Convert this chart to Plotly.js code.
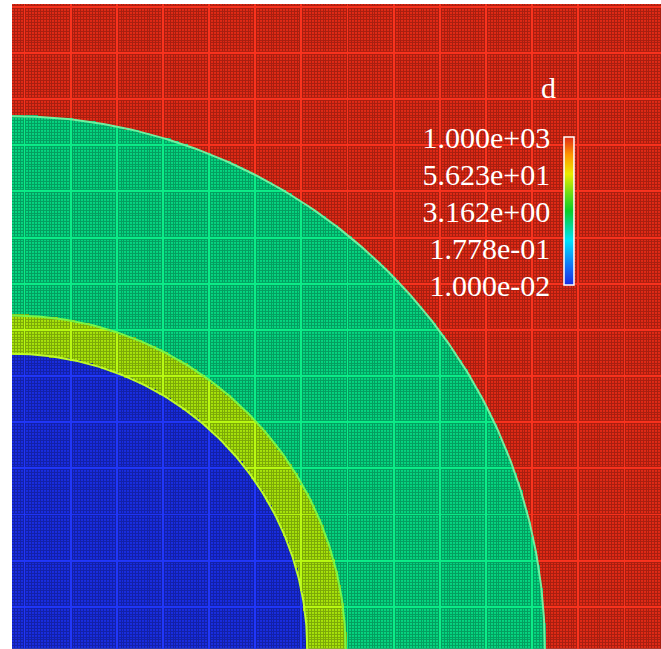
<!DOCTYPE html>
<html>
<head>
<meta charset="utf-8">
<script src="https://cdn.plot.ly/plotly-3.0.1.min.js"></script>
<style>html,body{margin:0;padding:0;background:#fff;}</style>
</head>
<body>
<div id="chart" style="width:661px;height:649px;"></div>
<script>
// ---- data ----
const regionNames = ['core', 'inner shell', 'outer shell', 'ambient'];
const regionOuterRadius = [0.455, 0.514, 0.821, 2.0];   // quarter-circle radii, centre at bottom-left
const regionD = [0.01, 25, 1.2, 1000];                   // value of d in each region
const tickD = [0.01, 0.1778, 3.162, 56.23, 1000];
const tickText = ['1.000e-02', '1.778e-01', '3.162e+00', '5.623e+01', '1.000e+03'];
const dMin = 0.01, dMax = 1000;
const legendTitle = 'd';

// mesh description
const cellsPerUnit = 225;        // fine mesh cells per unit length
const blockCells = 16;           // cells per refinement block
const blockOffsetX = 4, blockOffsetY = 14;
const xMax = 1.0, yMax = 645 / 649;

// ---- build mesh grid ----
const h = 1 / cellsPerUnit;
const nx = Math.round(xMax / h), ny = Math.ceil(yMax / h);
const xs = [], ys = [];
for (let i = 0; i < nx; i++) xs.push((i + 0.5) * h);
for (let j = 0; j < ny; j++) ys.push((j + 0.5) * h);

function regionLogD(x, y) {
  const r = Math.sqrt(x * x + y * y);
  for (let k = 0; k < regionOuterRadius.length; k++) {
    if (r <= regionOuterRadius[k]) return Math.log10(regionD[k]);
  }
  return Math.log10(regionD[regionD.length - 1]);
}
const z = [], zCols = [], zRows = [];
for (let j = 0; j < ny; j++) {
  const row = [], rowC = [], rowR = [];
  const onRow = ((j - blockOffsetY) % blockCells + blockCells) % blockCells === 0;
  for (let i = 0; i < nx; i++) {
    const v = regionLogD(xs[i], ys[j]);
    row.push(v);
    const onCol = ((i - blockOffsetX) % blockCells + blockCells) % blockCells === 0;
    rowC.push(onCol ? v : null);
    rowR.push(onRow ? v : null);
  }
  z.push(row); zCols.push(rowC); zRows.push(rowR);
}

const cmin = Math.log10(dMin), cmax = Math.log10(dMax);
const scaleMain = [
  [0.00, 'rgb(25,45,225)'],
  [0.12, 'rgb(20,110,245)'],
  [0.30, 'rgb(0,225,250)'],
  [0.50, 'rgb(10,205,40)'],
  [0.62, 'rgb(110,220,20)'],
  [0.75, 'rgb(235,235,0)'],
  [0.88, 'rgb(255,150,0)'],
  [1.00, 'rgb(225,42,22)']
];
function scaled(sc, f, add) {
  return sc.map(([p, c]) => {
    const m = c.match(/\d+/g).map(Number);
    const q = m.map(v => Math.max(0, Math.min(255, Math.round(v * f + add))));
    return [p, `rgb(${q[0]},${q[1]},${q[2]})`];
  });
}
const scaleDark = scaled(scaleMain, 0.74, 0);
const scaleBright = scaled(scaleMain, 1.08, 6);

const txtFont = { family: 'Liberation Serif', size: 30, color: '#fff' };

const traces = [
  { type: 'heatmap', x: xs, y: ys, z: z, zmin: cmin, zmax: cmax, colorscale: scaleDark,
    showscale: false, hoverinfo: 'skip', zsmooth: false },
  { type: 'heatmap', x: xs, y: ys, z: z, zmin: cmin, zmax: cmax, colorscale: scaleMain,
    xgap: 1, ygap: 1, zsmooth: false, name: legendTitle,
    colorbar: {
      tickvals: tickD.map(Math.log10), ticktext: tickText,
      tickfont: txtFont,
      ticks: 'inside', ticklen: 27, tickcolor: 'rgba(0,0,0,0)',
      ticklabelposition: 'inside', ticklabeloverflow: 'allow',
      x: 0.851, xanchor: 'left', xpad: 0, ypad: 0,
      y: 0.679, yanchor: 'middle', len: 0.2295, lenmode: 'fraction',
      thickness: 10, outlinecolor: '#fff', outlinewidth: 1.5, bgcolor: 'rgba(0,0,0,0)', borderwidth: 0
    } },
  { type: 'heatmap', x: xs, y: ys, z: zCols, zmin: cmin, zmax: cmax, colorscale: scaleBright,
    xgap: 1, showscale: false, hoverinfo: 'skip', zsmooth: false },
  { type: 'heatmap', x: xs, y: ys, z: zRows, zmin: cmin, zmax: cmax, colorscale: scaleBright,
    ygap: 1, showscale: false, hoverinfo: 'skip', zsmooth: false }
];

// thin bright rims at region boundaries
const rimColors = ['rgb(190,250,40)', 'rgb(120,245,70)', 'rgb(110,240,160)'];
for (let k = 0; k < 3; k++) {
  const rx = [], ry = [];
  for (let a = 0; a <= 90; a += 0.5) {
    rx.push(regionOuterRadius[k] * Math.cos(a * Math.PI / 180));
    ry.push(regionOuterRadius[k] * Math.sin(a * Math.PI / 180));
  }
  traces.push({ type: 'scatter', mode: 'lines', x: rx, y: ry, hoverinfo: 'skip', showlegend: false,
    line: { color: rimColors[k], width: 2 } });
}

const layout = {
  width: 661, height: 649,
  margin: { l: 12, r: 0, t: 4, b: 0, pad: 0 },
  paper_bgcolor: '#fff', plot_bgcolor: '#fff',
  xaxis: { range: [0, xMax], visible: false, fixedrange: true },
  yaxis: { range: [0, yMax], visible: false, fixedrange: true },
  showlegend: false,
  annotations: [{ text: legendTitle, xref: 'paper', yref: 'paper', x: 0.851 - 16 / 649, y: 0.87,
    xanchor: 'center', yanchor: 'middle', showarrow: false, font: txtFont }]
};
Plotly.newPlot('chart', traces, layout, { displayModeBar: false, staticPlot: true });
</script>
</body>
</html>
